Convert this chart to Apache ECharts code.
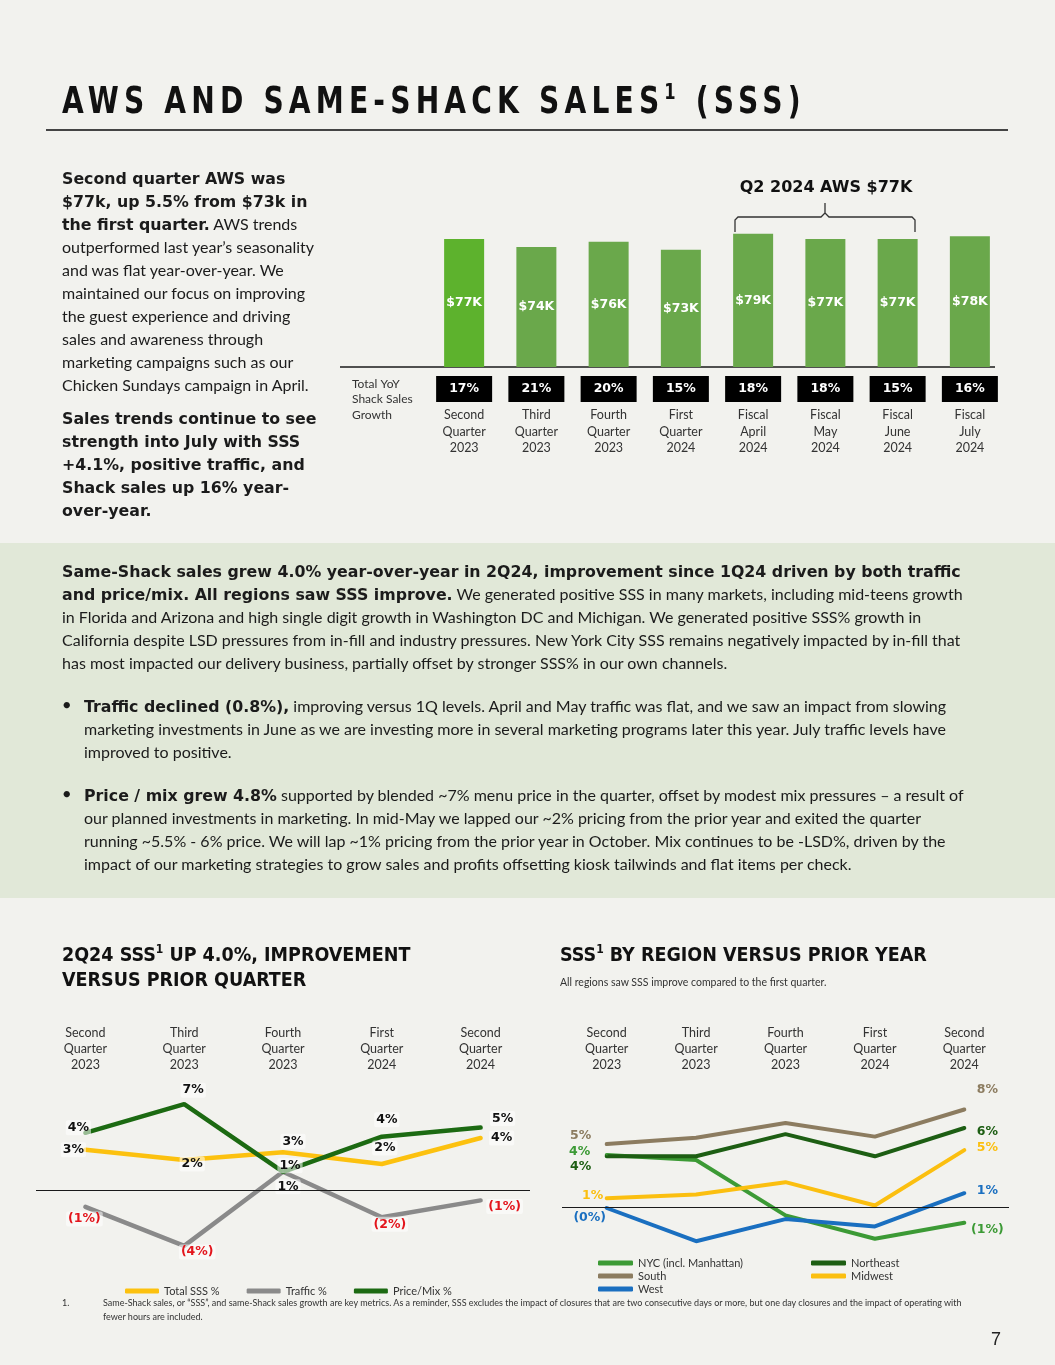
<!DOCTYPE html>
<html><head><meta charset="utf-8">
<script src="https://cdn.jsdelivr.net/npm/echarts@6/dist/echarts.min.js"></script>
<style>
html,body{margin:0;padding:0;background:#f2f2ee;}
#page{position:relative;width:1055px;height:1365px;overflow:hidden;background:#f2f2ee;}
#band{position:absolute;left:0;top:543px;width:1055px;height:355px;background:#e1e8d8;}
#chart{position:absolute;left:0;top:0;width:1055px;height:1365px;z-index:1;}
.txt{position:absolute;z-index:2;color:#1b1b1b;font-family:Lato,sans-serif;font-size:16px;line-height:23px;white-space:nowrap;}
.txt b{font-family:'DejaVu Sans',sans-serif;font-weight:bold;font-size:15.8px;line-height:1;}
.h1{position:absolute;z-index:2;left:62px;top:80px;white-space:nowrap;font-family:'DejaVu Sans',sans-serif;font-weight:bold;font-size:38px;line-height:40px;letter-spacing:7px;color:#111;transform:scaleX(0.74);transform-origin:left top;}
.h1 sup{font-size:22px;vertical-align:top;position:relative;top:1px;letter-spacing:7px;line-height:1;}
.rule{position:absolute;z-index:2;left:46px;top:129px;width:962px;height:2px;background:#444;}
.h2{position:absolute;z-index:2;font-family:'DejaVu Sans Condensed','DejaVu Sans',sans-serif;font-weight:bold;font-size:19.5px;line-height:25px;color:#111;white-space:nowrap;}
.h2 sup{font-size:12px;vertical-align:top;position:relative;top:1px;line-height:1;}
.sub{position:absolute;z-index:2;font-family:Lato,sans-serif;font-size:10.5px;line-height:14px;color:#333;white-space:nowrap;}
.bul{position:absolute;z-index:2;left:61px;font-family:'DejaVu Sans',sans-serif;font-weight:bold;font-size:18px;line-height:23px;color:#1b1b1b;}
.foot{position:absolute;z-index:2;font-family:Lato,sans-serif;font-size:9px;line-height:14px;color:#333;white-space:nowrap;}
</style></head>
<body>
<div id="page">
<div id="band"></div>
<div id="chart"></div>
<div class="h1">AWS AND SAME-SHACK SALES<sup>1</sup> (SSS)</div>
<div class="rule"></div>

<div class="txt" style="left:62px;top:166px;"><b>Second quarter AWS was</b><br><b>$77k, up 5.5% from $73k in</b><br><b>the first quarter.</b> AWS trends<br>outperformed last year’s seasonality<br>and was flat year-over-year. We<br>maintained our focus on improving<br>the guest experience and driving<br>sales and awareness through<br>marketing campaigns such as our<br>Chicken Sundays campaign in April.</div>
<div class="txt" style="left:62px;top:406px;"><b>Sales trends continue to see</b><br><b>strength into July with SSS</b><br><b>+4.1%, positive traffic, and</b><br><b>Shack sales up 16% year-</b><br><b>over-year.</b></div>

<div class="txt" style="left:62px;top:559px;"><b>Same-Shack sales grew 4.0% year-over-year in 2Q24, improvement since 1Q24 driven by both traffic</b><br><b>and price/mix. All regions saw SSS improve.</b> We generated positive SSS in many markets, including mid-teens growth<br>in Florida and Arizona and high single digit growth in Washington DC and Michigan. We generated positive SSS% growth in<br>California despite LSD pressures from in-fill and industry pressures. New York City SSS remains negatively impacted by in-fill that<br>has most impacted our delivery business, partially offset by stronger SSS% in our own channels.</div>
<div class="bul" style="top:694px;">•</div>
<div class="txt" style="left:84px;top:694px;"><b>Traffic declined (0.8%),</b> improving versus 1Q levels. April and May traffic was flat, and we saw an impact from slowing<br>marketing investments in June as we are investing more in several marketing programs later this year. July traffic levels have<br>improved to positive.</div>
<div class="bul" style="top:783px;">•</div>
<div class="txt" style="left:84px;top:783px;"><b>Price / mix grew 4.8%</b> supported by blended ~7% menu price in the quarter, offset by modest mix pressures – a result of<br>our planned investments in marketing. In mid-May we lapped our ~2% pricing from the prior year and exited the quarter<br>running ~5.5% - 6% price. We will lap ~1% pricing from the prior year in October. Mix continues to be -LSD%, driven by the<br>impact of our marketing strategies to grow sales and profits offsetting kiosk tailwinds and flat items per check.</div>

<div class="h2" style="left:62px;top:942px;">2Q24 SSS<sup>1</sup> UP 4.0%, IMPROVEMENT<br>VERSUS PRIOR QUARTER</div>
<div class="h2" style="left:560px;top:942px;">SSS<sup>1</sup> BY REGION VERSUS PRIOR YEAR</div>
<div class="sub" style="left:560px;top:975px;">All regions saw SSS improve compared to the first quarter.</div>

<div class="foot" style="left:62px;top:1296px;">1.</div>
<div class="foot" style="left:103px;top:1296px;">Same-Shack sales, or “SSS”, and same-Shack sales growth are key metrics. As a reminder, SSS excludes the impact of closures that are two consecutive days or more, but one day closures and the impact of operating with<br>fewer hours are included.</div>
<div class="foot" style="left:991px;top:1328px;font-family:'Liberation Sans',sans-serif;font-size:18px;line-height:22px;color:#222;">7</div>
</div>

<script>
// ---------- DATA ----------
const barCategories = ['Second\nQuarter\n2023','Third\nQuarter\n2023','Fourth\nQuarter\n2023','First\nQuarter\n2024','Fiscal\nApril\n2024','Fiscal\nMay\n2024','Fiscal\nJune\n2024','Fiscal\nJuly\n2024'];
const awsValues = [77, 74, 76, 73, 79, 77, 77, 78];
const yoyGrowth = [17, 21, 20, 15, 18, 18, 15, 16];

const quarterCategories = ['Second\nQuarter\n2023','Third\nQuarter\n2023','Fourth\nQuarter\n2023','First\nQuarter\n2024','Second\nQuarter\n2024'];
const totalSSS = [3.1, 2.3, 2.9, 2.0, 4.0];
const trafficPct = [-1.3, -4.3, 1.4, -2.1, -0.8];
const priceMixPct = [4.4, 6.6, 1.4, 4.1, 4.8];

const regionNYC = [4.2, 3.8, -0.7, -2.6, -1.3];
const regionNortheast = [4.1, 4.1, 5.9, 4.1, 6.4];
const regionSouth = [5.1, 5.6, 6.8, 5.7, 7.9];
const regionMidwest = [0.7, 1.0, 2.0, 0.1, 4.6];
const regionWest = [-0.1, -2.8, -1.0, -1.6, 1.1];

// ---------- LAYOUT (label offsets) ----------
const leftOffsets = {
  sss:     [[-12,0],[8,4],[10,-11],[3,-16],[21,0]],
  price:   [[-7,-5],[9,-14],[7,-6],[5,-17],[22,-9]],
  traffic: [[-1,12],[13,6],[5,15],[8,7],[24,6]]
};
const rightOffsets = {
  nyc:       [[-27,-3],null,null,null,[23,7]],
  northeast: [[-26,10],null,null,null,[23,4]],
  south:     [[-26,-8],null,null,null,[23,-20]],
  midwest:   [[-14,-2],null,null,null,[23,-2]],
  west:      [[-17,10],null,null,null,[23,-2]]
};

function pct(v){ return v < 0 ? '(' + Math.round(-v) + '%)' : Math.round(v) + '%'; }

function leftData(values, offsets){
  return values.map((v,i)=>({
    value: v,
    label: { show: true, offset: offsets[i], color: v < 0 ? '#e3161d' : '#111' }
  }));
}
function rightData(values, offsets, color){
  return values.map((v,i)=>({
    value: v,
    label: offsets[i] ? { show: true, offset: offsets[i], color: color } : { show: false }
  }));
}

const labelFont = { fontFamily: 'DejaVu Sans', fontWeight: 'bold', fontSize: 12.5 };

const leftLabel = Object.assign({
  show: true, position: 'inside', formatter: p => pct(p.value),
  backgroundColor: 'rgba(255,255,255,0.55)', padding: [1,2], borderRadius: 2
}, labelFont);
const rightLabel = Object.assign({
  show: true, position: 'inside', formatter: p => pct(p.value)
}, labelFont);

const zeroLine = {
  silent: true, symbol: 'none', label: { show: false },
  lineStyle: { color: '#1a1a1a', width: 1.2, type: 'solid' },
  emphasis: { disabled: true },
  data: [{ yAxis: 0 }]
};

function lineSeries(name, data, color, xi, width, label, extra){
  return Object.assign({
    name: name, type: 'line', xAxisIndex: xi, yAxisIndex: xi,
    data: data, symbol: 'circle', symbolSize: 2, showSymbol: true,
    lineStyle: { width: width, color: color, cap: 'round' },
    itemStyle: { color: color }, label: label,
    emphasis: { disabled: true }
  }, extra || {});
}

const catLabelStyle = { color: '#333', fontSize: 12.5, lineHeight: 16, fontFamily: 'Lato', align: 'center' };
const legendBase = {
  icon: 'roundRect', itemWidth: 34, itemHeight: 5, padding: 0, selectedMode: false,
  textStyle: { fontSize: 11, lineHeight: 12, fontFamily: 'Lato', color: '#333' }
};

const chart = echarts.init(document.getElementById('chart'));
chart.setOption({
  animation: false,
  backgroundColor: 'transparent',
  grid: [
    { left: 428, right: 49, top: 207, height: 160 },
    { left: 36, right: 525, top: 1086, height: 182 },
    { left: 562, right: 46, top: 1096, height: 160 }
  ],
  xAxis: [
    { gridIndex: 0, type: 'category', data: barCategories,
      axisLine: { show: false }, axisTick: { show: false },
      axisLabel: {
        interval: 0, margin: 9,
        formatter: (v, i) => '{b|' + yoyGrowth[i] + '%}\n{s| }\n' + v.split('\n').map(t => '{c|' + t + '}').join('\n'),
        rich: {
          b: { backgroundColor: '#000', color: '#fff', width: 56, height: 26, lineHeight: 26, align: 'center',
               fontFamily: 'DejaVu Sans', fontWeight: 'bold', fontSize: 12.5 },
          s: { fontSize: 2, lineHeight: 5 },
          c: { fontSize: 12.5, lineHeight: 16.5, color: '#333', fontFamily: 'Lato', align: 'center' }
        }
      } },
    { gridIndex: 1, type: 'category', data: quarterCategories, position: 'top', boundaryGap: true,
      axisLine: { show: false }, axisTick: { show: false },
      axisLabel: Object.assign({ interval: 0, margin: 13 }, catLabelStyle) },
    { gridIndex: 2, type: 'category', data: quarterCategories, position: 'top', boundaryGap: true,
      axisLine: { show: false }, axisTick: { show: false },
      axisLabel: Object.assign({ interval: 0, margin: 23 }, catLabelStyle) }
  ],
  yAxis: [
    { gridIndex: 0, type: 'value', min: 29, max: 89, show: false },
    { gridIndex: 1, type: 'value', min: -6, max: 8, show: false },
    { gridIndex: 2, type: 'value', min: -4, max: 9, show: false }
  ],
  legend: [
    Object.assign({}, legendBase, { data: ['Total SSS %','Traffic %','Price/Mix %'], left: 125, top: 1285, itemGap: 27 }),
    Object.assign({}, legendBase, { data: ['NYC (incl. Manhattan)','South','West'], orient: 'vertical', left: 598, top: 1257, itemGap: 1, itemWidth: 35 }),
    Object.assign({}, legendBase, { data: ['Northeast','Midwest'], orient: 'vertical', left: 811, top: 1257, itemGap: 1, itemWidth: 35 })
  ],
  series: [
    { name: 'AWS', type: 'bar', xAxisIndex: 0, yAxisIndex: 0, data: awsValues, barWidth: 40,
      itemStyle: { color: p => p.dataIndex === 0 ? '#5db22d' : '#6aa84b' },
      label: { show: true, position: 'inside', formatter: p => '$' + p.value + 'K', color: '#fff',
               fontFamily: 'DejaVu Sans', fontWeight: 'bold', fontSize: 12.5 },
      emphasis: { disabled: true } },

    lineSeries('Total SSS %', leftData(totalSSS, leftOffsets.sss), '#fcc10f', 1, 4.5, leftLabel, { markLine: zeroLine }),
    lineSeries('Traffic %', leftData(trafficPct, leftOffsets.traffic), '#8a8a8a', 1, 4.5, leftLabel),
    lineSeries('Price/Mix %', leftData(priceMixPct, leftOffsets.price), '#1c6a12', 1, 4.5, leftLabel),

    lineSeries('NYC (incl. Manhattan)', rightData(regionNYC, rightOffsets.nyc, '#3c9a35'), '#3c9a35', 2, 4, rightLabel, { markLine: zeroLine }),
    lineSeries('Northeast', rightData(regionNortheast, rightOffsets.northeast, '#1d5e13'), '#1d5e13', 2, 4, rightLabel),
    lineSeries('South', rightData(regionSouth, rightOffsets.south, '#8c7c60'), '#8c7c60', 2, 4, rightLabel),
    lineSeries('Midwest', rightData(regionMidwest, rightOffsets.midwest, '#fbbf10'), '#fbbf10', 2, 4, rightLabel),
    lineSeries('West', rightData(regionWest, rightOffsets.west, '#1a6fc0'), '#1a6fc0', 2, 4, rightLabel)
  ],
  graphic: [
    { type: 'line', silent: true, shape: { x1: 340, y1: 367, x2: 995, y2: 367 }, style: { stroke: '#1a1a1a', lineWidth: 1.5 } },
    { type: 'text', silent: true, left: 352, top: 376,
      style: { text: 'Total YoY\nShack Sales\nGrowth', fontFamily: 'Lato', fontSize: 12, lineHeight: 15.5, fill: '#333' } },
    { type: 'text', silent: true, x: 826, y: 188,
      style: { text: 'Q2 2024 AWS $77K', fontFamily: 'DejaVu Sans', fontWeight: 'bold', fontSize: 16, fill: '#111', align: 'center', verticalAlign: 'middle' } },
    { type: 'polyline', silent: true,
      shape: { points: [[735,232],[735,220],[738,217],[821,217],[825,213],[825,203],[825,213],[829,217],[912,217],[915,220],[915,232]] },
      style: { stroke: '#333', lineWidth: 1.3, fill: null } }
  ]
});
</script>
</body></html>
